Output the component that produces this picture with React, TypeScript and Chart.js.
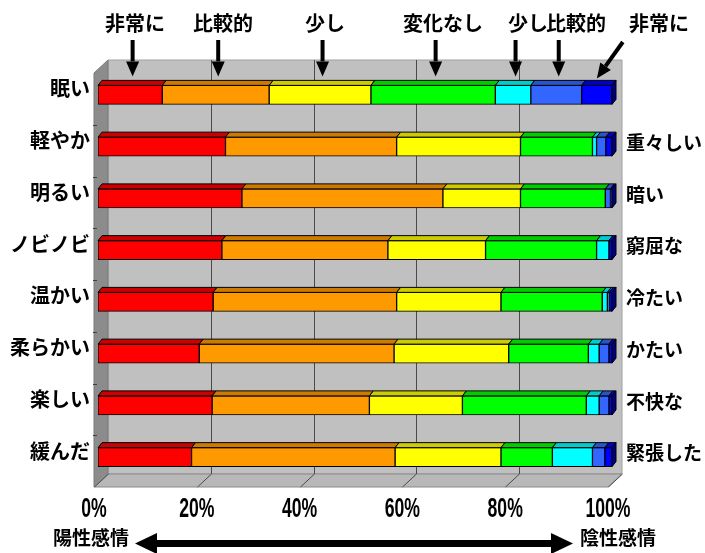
import React, { useEffect, useRef } from 'react';
import { Chart, registerables } from 'chart.js';

Chart.register(...registerables);

// ---- data ----
const leftLabels = ['眠い', '軽やか', '明るい', 'ノビノビ', '温かい', '柔らかい', '楽しい', '緩んだ'];
const rightLabels = ['', '重々しい', '暗い', '窮屈な', '冷たい', 'かたい', '不快な', '緊張した'];
const seriesLabels = ['非常に(陽性)', '比較的(陽性)', '少し(陽性)', '変化なし', '少し(陰性)', '比較的(陰性)', '非常に(陰性)'];
const topLabels = ['非常に', '比較的', '少し', '変化なし', '少し', '比較的', '非常に'];
const xTickValues = [0, 20, 40, 60, 80, 100];
const bottomLeftText = '陽性感情';
const bottomRightText = '陰性感情';

const veryPos = [12.5, 24.8, 28.0, 24.1, 22.4, 19.7, 22.2, 18.2];
const ratherPos = [20.8, 33.3, 39.1, 32.3, 35.7, 37.9, 30.6, 39.6];
const slightlyPos = [19.8, 24.1, 15.1, 19.0, 20.3, 22.3, 18.1, 20.6];
const noChange = [24.2, 14.0, 16.5, 21.6, 19.7, 15.5, 24.1, 10.0];
const slightlyNeg = [6.9, 0.8, 0.0, 2.4, 1.0, 2.1, 2.5, 7.8];
const ratherNeg = [9.9, 1.8, 1.0, 0.0, 0.4, 1.9, 1.9, 2.4];
const veryNeg = [5.9, 1.2, 0.3, 0.6, 0.5, 0.6, 0.6, 1.4];

const series = [veryPos, ratherPos, slightlyPos, noChange, slightlyNeg, ratherNeg, veryNeg];

// ---- styles / layout ----
const frontColors = ['#FF0000', '#FF9900', '#FFFF00', '#00FF00', '#00FFFF', '#3366FF', '#0000FF'];
const topColors = ['#CC0000', '#CC7A00', '#CCCC00', '#00CC00', '#00CCCC', '#2952CC', '#0000CC'];
const sideColors = ['#800000', '#804D00', '#808000', '#008000', '#008080', '#1A3380', '#000080'];
const topLabelX = [135, 223, 325, 443, 528, 576, 659];
const CJK = '"Noto Sans CJK JP", "Noto Sans CJK SC", sans-serif';

const BACK = { dx: 10, dy: -9 };
const FRONT = { dx: -4, dy: 4 };
const BAR = { dx: 4, dy: 5 };

function poly(ctx: CanvasRenderingContext2D, pts: number[][], fill?: string, stroke?: string) {
  ctx.beginPath();
  ctx.moveTo(pts[0][0], pts[0][1]);
  for (let i = 1; i < pts.length; i++) ctx.lineTo(pts[i][0], pts[i][1]);
  ctx.closePath();
  if (fill) { ctx.fillStyle = fill; ctx.fill(); }
  if (stroke) { ctx.strokeStyle = stroke; ctx.lineWidth = 1; ctx.stroke(); }
}

function arrowHead(ctx: CanvasRenderingContext2D, fromX: number, fromY: number, toX: number, toY: number, len: number, half: number, shaft: number) {
  const ang = Math.atan2(toY - fromY, toX - fromX);
  const cos = Math.cos(ang), sin = Math.sin(ang);
  const bxp = toX - cos * len, byp = toY - sin * len;
  ctx.beginPath();
  ctx.moveTo(fromX, fromY);
  ctx.lineTo(bxp, byp);
  ctx.lineWidth = shaft;
  ctx.strokeStyle = '#000';
  ctx.stroke();
  ctx.beginPath();
  ctx.moveTo(toX, toY);
  ctx.lineTo(bxp - sin * half, byp + cos * half);
  ctx.lineTo(bxp + sin * half, byp - cos * half);
  ctx.closePath();
  ctx.fillStyle = '#000';
  ctx.fill();
}

const threeD = {
  id: 'threeD',
  beforeDatasetsDraw(chart: any) {
    const { ctx, chartArea: a, scales } = chart;
    const xs = scales.x;
    const L = a.left, R = a.right, T = a.top, B = a.bottom;
    ctx.save();
    // back wall
    poly(ctx, [[L + BACK.dx, T + BACK.dy], [R + BACK.dx, T + BACK.dy], [R + BACK.dx, B + BACK.dy], [L + BACK.dx, B + BACK.dy]], '#C0C0C0', '#A0A0A0');
    // left wall
    poly(ctx, [[L + FRONT.dx, T + FRONT.dy], [L + BACK.dx, T + BACK.dy], [L + BACK.dx, B + BACK.dy], [L + FRONT.dx, B + FRONT.dy]], '#8C8C8C', '#7A7A7A');
    // floor
    poly(ctx, [[L + FRONT.dx, B + FRONT.dy], [L + BACK.dx, B + BACK.dy], [R + BACK.dx, B + BACK.dy], [R + FRONT.dx, B + FRONT.dy]], '#B8B8B8', '#8A8A8A');
    // grid lines
    ctx.lineWidth = 1;
    ctx.strokeStyle = '#4A4A4A';
    xTickValues.forEach((v) => {
      const px = Math.round(xs.getPixelForValue(v)) + 0.5;
      if (v > 0 && v < 100) {
        ctx.beginPath();
        ctx.moveTo(px + BACK.dx, T + BACK.dy);
        ctx.lineTo(px + BACK.dx, B + BACK.dy);
        ctx.stroke();
      }
      ctx.beginPath();
      ctx.moveTo(px + BACK.dx, B + BACK.dy);
      ctx.lineTo(px + FRONT.dx, B + FRONT.dy);
      ctx.stroke();
    });
    // category tick marks on the left wall edge
    const n = leftLabels.length;
    const step = (B - T) / n;
    ctx.strokeStyle = '#404040';
    for (let k = 1; k < n; k++) {
      const yy = Math.round(T + FRONT.dy + k * step) + 0.5;
      ctx.beginPath();
      ctx.moveTo(L + FRONT.dx - 1, yy);
      ctx.lineTo(L + FRONT.dx + 3, yy);
      ctx.stroke();
    }
    ctx.restore();
  },
  afterDatasetsDraw(chart: any) {
    const { ctx } = chart;
    ctx.save();
    ctx.lineWidth = 1;
    const nCat = leftLabels.length;
    for (let j = 0; j < nCat; j++) {
      let last: any = null;
      for (let i = 0; i < series.length; i++) {
        const el = chart.getDatasetMeta(i).data[j];
        if (!el) continue;
        const p = el.getProps(['x', 'y', 'base', 'height'], true);
        const x1 = Math.min(p.x, p.base), x2 = Math.max(p.x, p.base);
        if (x2 - x1 < 0.5) continue;
        const top = p.y - p.height / 2;
        poly(ctx, [[x1, top], [x1 + BAR.dx, top - BAR.dy], [x2 + BAR.dx, top - BAR.dy], [x2, top]], topColors[i], '#000');
        last = { i, x2, top, bottom: p.y + p.height / 2 };
      }
      if (last) {
        poly(ctx, [[last.x2, last.top], [last.x2 + BAR.dx, last.top - BAR.dy], [last.x2 + BAR.dx, last.bottom - BAR.dy], [last.x2, last.bottom]], sideColors[last.i], '#000');
      }
    }
    ctx.restore();
  },
  afterDraw(chart: any) {
    const { ctx, scales } = chart;
    const xs = scales.x;
    ctx.save();
    // x tick labels (condensed bold), placed by the x scale
    ctx.fillStyle = '#000';
    ctx.textAlign = 'center';
    ctx.textBaseline = 'middle';
    ctx.font = 'bold 28px "Liberation Sans", Arial, sans-serif';
    xTickValues.forEach((v) => {
      const px = xs.getPixelForValue(v) - 4;
      ctx.save();
      ctx.translate(px, 509);
      ctx.scale(0.63, 1);
      ctx.fillText(`${v}%`, 0, 0);
      ctx.restore();
    });
    // top annotations pointing at the first bar
    ctx.font = `bold 20px ${CJK}`;
    topLabels.forEach((t, i) => {
      ctx.fillStyle = '#000';
      ctx.textAlign = 'center';
      ctx.fillText(t, topLabelX[i], 23);
      const el = chart.getDatasetMeta(i).data[0];
      const p = el.getProps(['x', 'y', 'base', 'height'], true);
      const mid = (p.x + p.base) / 2;
      const top = p.y - p.height / 2;
      if (i < topLabels.length - 1) {
        arrowHead(ctx, mid + 2.5, 40, mid + 2.5, top - 9, 15, 6.5, 4);
      } else {
        arrowHead(ctx, mid + 26, 42, mid, top - 7, 15, 6.5, 4);
      }
    });
    // bottom double arrow
    const ay = 543.5;
    ctx.fillStyle = '#000';
    ctx.font = `bold 19px ${CJK}`;
    ctx.textAlign = 'left';
    ctx.fillText(bottomLeftText, 53, 538);
    ctx.fillText(bottomRightText, 580, 538);
    const lx = 135, rx = 573;
    ctx.fillRect(lx + 20, ay - 3.5, rx - lx - 40, 7);
    poly(ctx, [[lx, ay], [lx + 22, ay - 10.5], [lx + 22, ay + 10.5]], '#000');
    poly(ctx, [[rx, ay], [rx - 22, ay - 10.5], [rx - 22, ay + 10.5]], '#000');
    ctx.restore();
  },
};

export default function App() {
  const ref = useRef<HTMLCanvasElement | null>(null);
  useEffect(() => {
    if (!ref.current) return;
    const chart = new Chart(ref.current, {
      type: 'bar',
      data: {
        labels: leftLabels,
        datasets: series.map((data, i) => ({
          label: seriesLabels[i],
          data,
          backgroundColor: frontColors[i],
          borderColor: '#000000',
          borderWidth: 1,
          borderSkipped: false,
          barThickness: 19,
          stack: 'all',
        })),
      },
      options: {
        indexAxis: 'y',
        responsive: true,
        maintainAspectRatio: false,
        animation: false,
        events: [],
        layout: { padding: { top: 69, left: 0, right: 0, bottom: 0 } },
        plugins: { legend: { display: false }, tooltip: { enabled: false }, title: { display: false } },
        scales: {
          x: {
            type: 'linear',
            stacked: true,
            min: 0,
            max: 100,
            afterBuildTicks: (s: any) => { s.ticks = xTickValues.map((v) => ({ value: v })); },
            ticks: { display: false },
            grid: { display: false, drawTicks: false },
            border: { display: false },
            afterFit: (s: any) => { s.height = 70; },
          },
          y: {
            type: 'category',
            stacked: true,
            offset: true,
            ticks: { font: { family: CJK, size: 20, weight: 'bold' }, color: '#000', padding: 8, labelOffset: -6, autoSkip: false },
            grid: { display: false, drawTicks: false },
            border: { display: false },
            afterFit: (s: any) => { s.width = 98; },
          },
          y2: {
            type: 'category',
            axis: 'y',
            position: 'right',
            labels: rightLabels,
            offset: true,
            ticks: { font: { family: CJK, size: 19, weight: 'bold' }, color: '#000', padding: 14, labelOffset: -4, autoSkip: false },
            grid: { display: false, drawTicks: false },
            border: { display: false },
            afterFit: (s: any) => { s.width = 93; },
          },
        },
      } as any,
      plugins: [threeD],
    });
    return () => chart.destroy();
  }, []);
  return (
    <div style={{ position: 'fixed', left: 0, top: 0, width: 705, height: 553, background: '#fff' }}>
      <canvas ref={ref} />
    </div>
  );
}
